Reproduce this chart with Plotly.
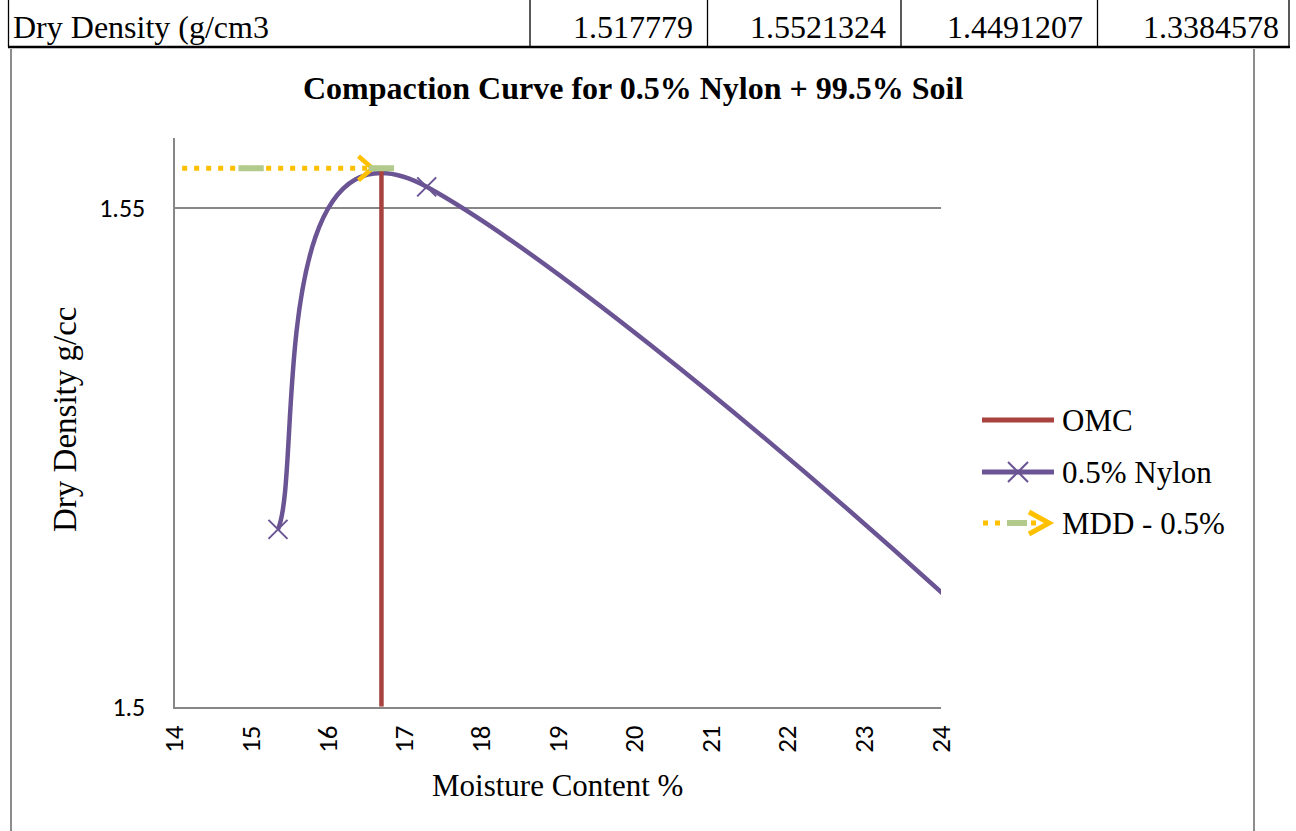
import math
import plotly.graph_objects as go

W, H = 1296, 831

# Compaction test results (moisture %, dry density g/cc)
moisture = [15.35, 17.29, 31.6, 36.5]
dry_density = [1.517779, 1.5521324, 1.4491207, 1.3384578]

# Optimum moisture content and maximum dry density
omc_x = 16.7
mdd_y = 1.554
mdd_x = [14.1, 15.0, 16.7]

x_range = [14, 24]
y_range = [1.5, 1.557]
x_ticks = list(range(14, 25))
y_ticks = [1.5, 1.55]

table_label = "Dry Density (g/cm3"
legend_names = ["OMC", "0.5% Nylon", "MDD - 0.5%"]

PURPLE = "#6A5494"
RED = "#A8423F"
GOLD = "#FFC000"
GREEN = "#B2CB8C"
GRAY = "#878787"
SERIF = "Liberation Serif, Times New Roman, serif"
SANS = "Carlito, Liberation Sans Narrow, Liberation Sans, Arial, sans-serif"


def px(x):
    return x / W


def py(y):
    return 1 - y / H


x_dom = [px(174.5), px(941)]
y_dom = [py(706.7), py(138.3)]

# screen pixels per data unit on each axis
SX = (x_dom[1] - x_dom[0]) * W / (x_range[1] - x_range[0])
SY = (y_dom[1] - y_dom[0]) * H / (y_range[1] - y_range[0])


def smooth_path(xs, ys):
    """Cubic Bezier path through the points (Catmull-Rom tangents, tension 1/6,
    handles limited to half of their segment), computed in screen units."""
    pts = [(x * SX, y * SY) for x, y in zip(xs, ys)]
    n = len(pts)

    def handle(i, j):
        prev = pts[max(i - 1, 0)]
        nxt = pts[min(i + 1, n - 1)]
        tx, ty = (nxt[0] - prev[0]) / 6, (nxt[1] - prev[1]) / 6
        if j < i:
            tx, ty = -tx, -ty
        lim = 0.5 * math.dist(pts[i], pts[j])
        ln = math.hypot(tx, ty)
        if ln > lim:
            tx, ty = tx * lim / ln, ty * lim / ln
        return ((pts[i][0] + tx) / SX, (pts[i][1] + ty) / SY)

    d = f"M{xs[0]},{ys[0]}"
    for i in range(n - 1):
        c1 = handle(i, i + 1)
        c2 = handle(i + 1, i)
        d += f" C{c1[0]},{c1[1]} {c2[0]},{c2[1]} {xs[i + 1]},{ys[i + 1]}"
    return d


def open_arrow(x, y, tip_back=9, length=14, half=12):
    """Open arrow head pointing right whose tip sits just behind (x, y)."""
    tx = x - tip_back / SX
    bx = tx - length / SX
    return [bx, tx, bx], [y + half / SY, y, y - half / SY]


fig = go.Figure()

# OMC vertical line
fig.add_trace(go.Scatter(
    x=[omc_x, omc_x], y=[y_range[0], mdd_y], mode="lines",
    line=dict(color=RED, width=4.5), showlegend=False, hoverinfo="skip"))

# Test points of the 0.5% nylon mix
fig.add_trace(go.Scatter(
    x=moisture, y=dry_density, mode="markers",
    marker=dict(symbol="x-thin", size=19, line=dict(color=PURPLE, width=2)),
    showlegend=False))

# MDD dotted line
fig.add_trace(go.Scatter(
    x=mdd_x, y=[mdd_y] * len(mdd_x), mode="lines",
    line=dict(color=GOLD, width=5, dash="5px,7px"),
    showlegend=False, hoverinfo="skip"))

# MDD arrow head
ax, ay = open_arrow(mdd_x[-1], mdd_y)
fig.add_trace(go.Scatter(
    x=ax, y=ay, mode="lines", line=dict(color=GOLD, width=4.5),
    showlegend=False, hoverinfo="skip"))

# MDD point markers
fig.add_trace(go.Scatter(
    x=mdd_x[1:], y=[mdd_y] * (len(mdd_x) - 1), mode="markers",
    marker=dict(symbol="line-ew", size=18, line=dict(color=GREEN, width=6)),
    showlegend=False, hoverinfo="skip"))

shapes = []
# smoothed compaction curve
shapes.append(dict(type="path", xref="x", yref="y", layer="between",
                   path=smooth_path(moisture, dry_density),
                   line=dict(color=PURPLE, width=4.5)))

# table row above the chart
for xv in [8.5, 530, 707.5, 901, 1097.5, 1289]:
    shapes.append(dict(type="line", xref="paper", yref="paper",
                       x0=px(xv), x1=px(xv), y0=py(-2), y1=py(47),
                       line=dict(color="black", width=1.3)))
shapes.append(dict(type="line", xref="paper", yref="paper",
                   x0=px(8), x1=px(1290), y0=py(47), y1=py(47),
                   line=dict(color="black", width=2.5)))
# chart frame
for xv in [11, 1254]:
    shapes.append(dict(type="line", xref="paper", yref="paper",
                       x0=px(xv), x1=px(xv), y0=py(49), y1=py(H + 2),
                       line=dict(color="#8C8C8C", width=2)))

# legend glyphs
ly = [420, 472, 523]
lx0, lx1 = 982, 1054
shapes.append(dict(type="line", xref="paper", yref="paper",
                   x0=px(lx0), x1=px(lx1), y0=py(ly[0]), y1=py(ly[0]),
                   line=dict(color=RED, width=5)))
shapes.append(dict(type="line", xref="paper", yref="paper",
                   x0=px(lx0), x1=px(lx1), y0=py(ly[1]), y1=py(ly[1]),
                   line=dict(color=PURPLE, width=5)))
for a, b in [((1008, ly[1] - 10), (1028, ly[1] + 10)),
             ((1008, ly[1] + 10), (1028, ly[1] - 10))]:
    shapes.append(dict(type="line", xref="paper", yref="paper",
                       x0=px(a[0]), y0=py(a[1]), x1=px(b[0]), y1=py(b[1]),
                       line=dict(color=PURPLE, width=2)))
shapes.append(dict(type="line", xref="paper", yref="paper",
                   x0=px(983), x1=px(1040), y0=py(ly[2]), y1=py(ly[2]),
                   line=dict(color=GOLD, width=5, dash="5px,7px")))
shapes.append(dict(type="line", xref="paper", yref="paper",
                   x0=px(1007), x1=px(1027), y0=py(ly[2]), y1=py(ly[2]),
                   line=dict(color=GREEN, width=6)))
shapes.append(dict(type="path", xref="paper", yref="paper",
                   path=(f"M{px(1029)},{py(ly[2] - 11)} L{px(1049)},{py(ly[2])} "
                         f"L{px(1029)},{py(ly[2] + 11)}"),
                   line=dict(color=GOLD, width=5)))

annotations = []
for name, yv in zip(legend_names, ly):
    annotations.append(dict(x=px(1060), y=py(yv), xref="paper", yref="paper",
                            text=name, showarrow=False, xanchor="left",
                            yanchor="middle",
                            font=dict(family=SERIF, size=31, color="black")))

annotations.append(dict(x=px(11), y=py(27), xref="paper", yref="paper",
                        text=table_label, showarrow=False, xanchor="left",
                        yanchor="middle",
                        font=dict(family=SERIF, size=32, color="black")))
for v, xr in zip(dry_density, [695, 888, 1085, 1281]):
    annotations.append(dict(x=px(xr), y=py(27), xref="paper", yref="paper",
                            text=str(v), showarrow=False, xanchor="right",
                            yanchor="middle",
                            font=dict(family=SERIF, size=32, color="black")))

annotations.append(dict(x=px(633), y=py(88), xref="paper", yref="paper",
                        text="<b>Compaction Curve for 0.5% Nylon + 99.5% Soil</b>",
                        showarrow=False, xanchor="center", yanchor="middle",
                        font=dict(family=SERIF, size=32, color="black")))
annotations.append(dict(x=px(557), y=py(785), xref="paper", yref="paper",
                        text="Moisture Content %", showarrow=False,
                        xanchor="center", yanchor="middle",
                        font=dict(family=SERIF, size=31, color="black")))
annotations.append(dict(x=px(65), y=py(420), xref="paper", yref="paper",
                        text="Dry Density g/cc", showarrow=False, textangle=-90,
                        xanchor="center", yanchor="middle",
                        font=dict(family=SERIF, size=33, color="black")))

fig.update_layout(
    width=W, height=H,
    margin=dict(l=0, r=0, t=0, b=0, autoexpand=False),
    paper_bgcolor="white", plot_bgcolor="white",
    showlegend=False,
    shapes=shapes, annotations=annotations,
    xaxis=dict(domain=x_dom, range=x_range, tickvals=x_ticks, tickangle=-90,
               automargin=False,
               showgrid=False, zeroline=False, showline=True,
               linecolor=GRAY, linewidth=2, ticks="",
               ticklabelstandoff=6,
               tickfont=dict(family=SANS, size=27, color="black")),
    yaxis=dict(domain=y_dom, range=y_range, tickvals=y_ticks,
               automargin=False,
               showgrid=True, gridcolor=GRAY, gridwidth=2, zeroline=False,
               showline=True, linecolor=GRAY, linewidth=2, ticks="",
               ticklabelstandoff=22,
               tickfont=dict(family=SANS, size=26, color="black")),
)

fig.write_html("out.html", config={"displayModeBar": False})
